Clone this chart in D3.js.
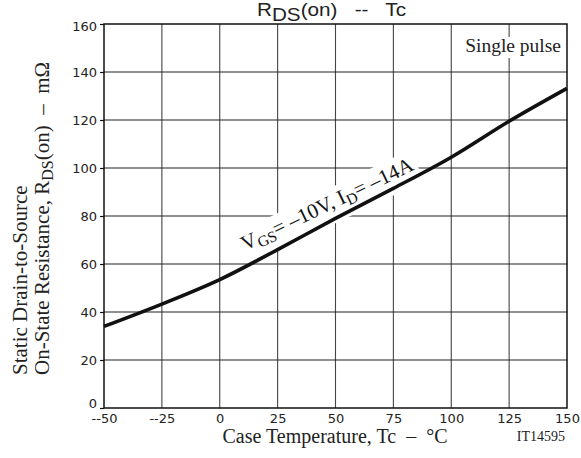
<!DOCTYPE html>
<html>
<head>
<meta charset="utf-8">
<script src="https://cdn.jsdelivr.net/npm/d3@7"></script>
<style>
  html, body { margin: 0; padding: 0; background: #fff; }
  svg { display: block; }
  svg text { white-space: pre; }
  .sans { font-family: "Liberation Sans", "DejaVu Sans", sans-serif; }
  .serif { font-family: "Liberation Serif", "Times New Roman", serif; }
</style>
</head>
<body>
<svg id="chart" width="581" height="458"></svg>
<script>
// Case temperature (°C) and static drain-to-source on-resistance (mΩ)
const caseTemp = [-50, -25, 0, 25, 50, 75, 100, 125, 150];
const rdsOn    = [34.0, 43.3, 53.5, 66.0, 79.0, 91.5, 104.5, 119.5, 133.2];

const xTicks = [-50, -25, 0, 25, 50, 75, 100, 125, 150];
const xTickLabels = ["--50", "--25", "0", "25", "50", "75", "100", "125", "150"];
const yTicks = [0, 20, 40, 60, 80, 100, 120, 140, 160];

const svg = d3.select("#chart");
const plotLeft = 104, plotRight = 567, plotTop = 24, plotBottom = 408;

const x = d3.scaleLinear().domain([-50, 150]).range([plotLeft, plotRight]);
const y = d3.scaleLinear().domain([0, 160]).range([plotBottom, plotTop]);

const g = svg.append("g");

// grid
g.selectAll("line.vg").data(xTicks.slice(1, -1)).join("line")
  .attr("x1", d => x(d)).attr("x2", d => x(d))
  .attr("y1", plotTop).attr("y2", plotBottom)
  .attr("stroke", "#444").attr("stroke-width", 1.1);
g.selectAll("line.hg").data(yTicks.slice(1, -1)).join("line")
  .attr("y1", d => y(d)).attr("y2", d => y(d))
  .attr("x1", plotLeft).attr("x2", plotRight)
  .attr("stroke", "#222").attr("stroke-width", 1.1);

// white box behind the "Single pulse" note
g.append("rect").attr("x", 461).attr("y", 37).attr("width", 101).attr("height", 21).attr("fill", "#fff");

// condition label along the curve: white box under the curve, text on top
const labTransform = "translate(245,251) rotate(-25.6)";
const labBoxG = svg.append("g").attr("transform", labTransform);
const labBox = labBoxG.append("rect").attr("fill", "#fff");

// curve
const line = d3.line()
  .x((d, i) => x(caseTemp[i]))
  .y(d => y(d))
  .curve(d3.curveCatmullRom.alpha(0.5));
svg.append("path").datum(rdsOn)
  .attr("d", line)
  .attr("fill", "none").attr("stroke", "#111").attr("stroke-width", 3.6);

const lab = svg.append("g").attr("transform", labTransform);
const labText = lab.append("text").attr("class", "serif").attr("font-size", 21).attr("fill", "#111");
labText.append("tspan").text("V");
labText.append("tspan").attr("font-size", 15.5).attr("dy", 4).text("GS");
labText.append("tspan").attr("dy", -4).text("= \u201310V, I");
labText.append("tspan").attr("font-size", 15.5).attr("dy", 4).text("D");
labText.append("tspan").attr("dy", -4).text("= \u201314A");
const bb = labText.node().getBBox();
labBox.attr("x", bb.x - 3).attr("y", bb.y - 1).attr("width", bb.width + 6).attr("height", bb.height + 8);

// frame
svg.append("rect").attr("x", plotLeft).attr("y", plotTop)
  .attr("width", plotRight - plotLeft).attr("height", plotBottom - plotTop)
  .attr("fill", "none").attr("stroke", "#111").attr("stroke-width", 1.5);

// y axis ticks and labels
const yAxis = d3.axisLeft(y).tickValues(yTicks).tickSize(4).tickPadding(3);
const ya = svg.append("g").attr("transform", `translate(${plotLeft},0)`).call(yAxis);
ya.select(".domain").remove();
ya.selectAll(".tick line").attr("stroke", "#111").attr("stroke-width", 1.2);
ya.selectAll(".tick text").attr("font-size", 13).attr("fill", "#222")
  .attr("font-family", "DejaVu Sans")
  .attr("dy", d => d === 0 ? "-0.05em" : d === 160 ? "0.5em" : "0.32em");

// x axis labels
const xAxis = d3.axisBottom(x).tickValues(xTicks).tickSize(0).tickPadding(6)
  .tickFormat((d, i) => xTickLabels[i]);
const xa = svg.append("g").attr("transform", `translate(0,${plotBottom})`).call(xAxis);
xa.select(".domain").remove();
xa.selectAll(".tick text").attr("font-size", 13).attr("fill", "#222")
  .attr("font-family", "DejaVu Sans");

// title
const title = svg.append("text").attr("class", "sans")
  .attr("transform", "translate(257,15.5) scale(1.15,1)")
  .attr("font-size", 18).attr("fill", "#222");
title.append("tspan").text("R");
title.append("tspan").attr("dy", 5).text("DS");
title.append("tspan").attr("dy", -5).text("(on)   --   Tc");

// "Single pulse"
svg.append("text").attr("class", "serif").attr("x", 561).attr("y", 52)
  .attr("text-anchor", "end").attr("font-size", 19.5).attr("fill", "#222").text("Single pulse");

// axis titles
svg.append("text").attr("class", "serif").attr("x", 335).attr("y", 443)
  .attr("text-anchor", "middle").attr("font-size", 20).attr("fill", "#222")
  .text("Case Temperature, Tc  \u2013  \u00B0C");
svg.append("text").attr("class", "serif").attr("x", 565).attr("y", 441)
  .attr("text-anchor", "end").attr("font-size", 14).attr("fill", "#222").text("IT14595");

const yl = svg.append("g").attr("transform", "translate(0,375) rotate(-90)");
yl.append("text").attr("class", "serif").attr("x", 0).attr("y", 27)
  .attr("font-size", 21).attr("fill", "#222").text("Static Drain-to-Source");
const yl2 = yl.append("text").attr("class", "serif").attr("x", 0).attr("y", 49)
  .attr("font-size", 21).attr("fill", "#222");
yl2.append("tspan").text("On-State Resistance, R");
yl2.append("tspan").attr("font-size", 16).attr("dy", 4).text("DS");
yl2.append("tspan").attr("dy", -4).text("(on)  \u2013  m\u03A9");
</script>
</body>
</html>
